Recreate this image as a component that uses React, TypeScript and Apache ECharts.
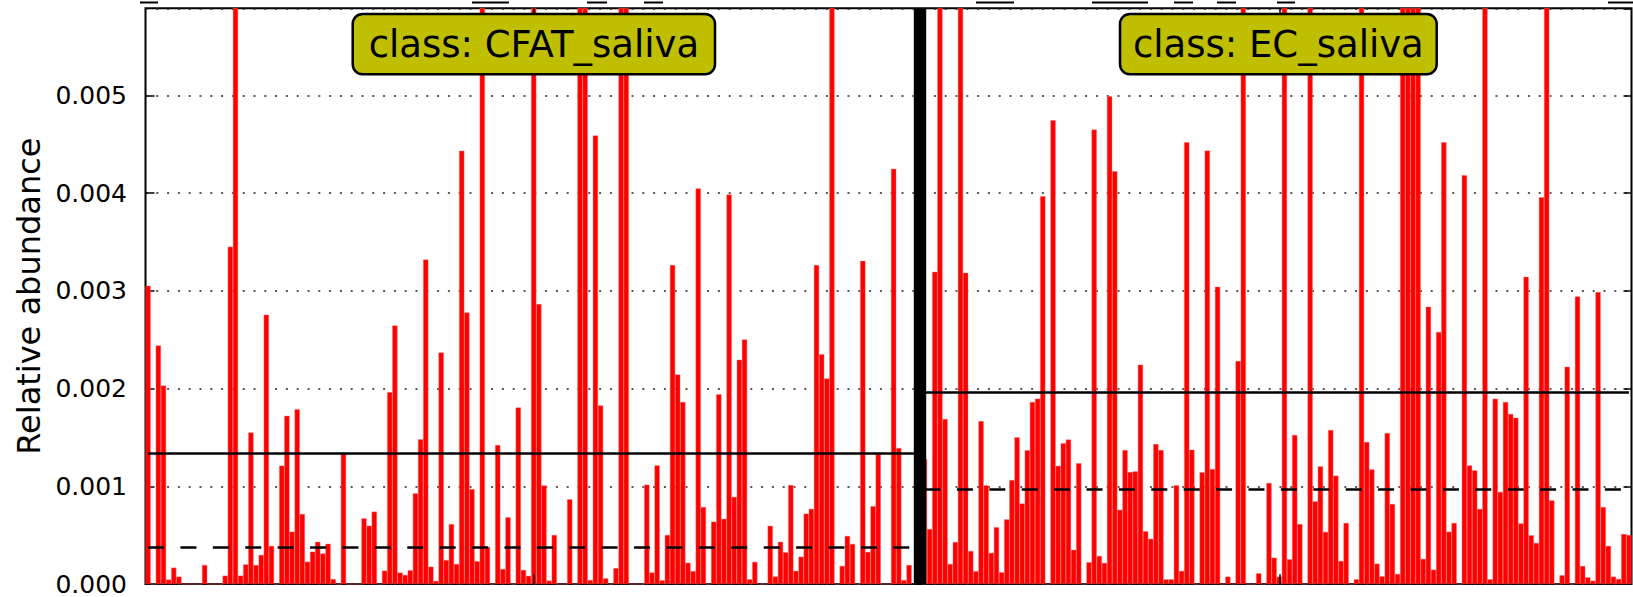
import { useEffect, useRef } from "react";
import * as echarts from "echarts";

// Relative abundance per sample (values above the axis top are clipped bars)
const CFAT_VALUES = [
  0.00305, 0, 0.00244, 0.00203, 0.000045, 0.000167, 0.000075, 0, 0, 0,
  0, 0.000194, 0, 0, 0, 0.000085, 0.00345, 0.0075, 0.000085, 0.0002,
  0.00155, 0.000194, 0.000297, 0.002754, 0.000389, 0, 0.00121, 0.00172, 0.000535, 0.001788,
  0.000716, 0.000228, 0.00033, 0.000432, 0.000312, 0.000411, 0.00005, 0, 0.001335, 0,
  0, 0, 0.000671, 0.000596, 0.00074, 0, 0.000136, 0.001962, 0.002645, 0.000116,
  0.000092, 0.00014, 0.000927, 0.00148, 0.00332, 0.000177, 0.000031, 0.002369, 0.000245, 0.000613,
  0.000204, 0.004431, 0.002778, 0.00097, 0.000233, 0.0075, 0.00038, 0, 0.001421, 0.000153,
  0.000682, 0, 0.001806, 0.000143, 0.000083, 0.0075, 0.002863, 0.001008, 0.000034, 0.000501,
  0, 0, 0.000866, 0, 0.0075, 0.0075, 0.00004, 0.004588, 0.001827, 0.000058,
  0, 0.000162, 0.0075, 0.0075, 0, 0, 0, 0.001016, 0.000117, 0.001213,
  0.000037, 0.000501, 0.003262, 0.002142, 0.001862, 0.000217, 0.000132, 0.004046, 0.000787, 0,
  0.000637, 0.001941, 0.000666, 0.003984, 0.000891, 0.002294, 0.002502, 0.000048, 0.000226, 0,
  0, 0.000595, 0.000077, 0.000431, 0.000324, 0.001012, 0.000134, 0.000279, 0.000719, 0.000768,
  0.003262, 0.00235, 0.002103, 0.0075, 0, 0.000184, 0.000491, 0.000409, 0, 0.003306,
  0.000328, 0.000796, 0.001333, 0, 0, 0.004247, 0.001392, 0.000039, 0.000194,
];

const EC_VALUES = [
  0.001277, 0.000562, 0.003194, 0.0075, 0.001687, 0.000204, 0.000429, 0.0075, 0.003183, 0.000337,
  0.00013, 0.001667, 0.001009, 0.000318, 0.000581, 0.000119, 0.000661, 0.001063, 0.0015, 0.000823,
  0.001368, 0.001862, 0.001896, 0.003967, 0, 0.004744, 0.001208, 0.00144, 0.001477, 0.00035,
  0.001235, 0, 0.000222, 0.004649, 0.000286, 0.000215, 0.00499, 0.004223, 0.000758, 0.00137,
  0.001145, 0.001152, 0.002243, 0.000539, 0.000462, 0.001431, 0.00137, 0.000048, 0.000048, 0.001009,
  0.000133, 0.004519, 0.001374, 0, 0.001142, 0.004434, 0.001176, 0.00304, 0, 0.000075,
  0, 0.00228, 0.0075, 0, 0, 0.000109, 0, 0.001033, 0.000269, 0.000075,
  0.0075, 0.000252, 0.001524, 0.000613, 0, 0.0075, 0.000845, 0.001203, 0.000532, 0.001575,
  0.001108, 0.000235, 0.000624, 0, 0.000048, 0.0075, 0.001452, 0.001172, 0.000208, 0.000078,
  0.001544, 0.000818, 0.000102, 0.0075, 0.0075, 0.0075, 0.0075, 0.000256, 0.002836, 0.000147,
  0.002577, 0.004519, 0.000535, 0.000624, 0, 0.004182, 0.001213, 0.001162, 0.000767, 0.0075,
  0.000048, 0.001895, 0.000941, 0.001861, 0.001738, 0.001701, 0.00062, 0.003142, 0.000498, 0.000419,
  0.003957, 0.0075, 0.000855, 0, 0.000089, 0.002222, 0, 0.002941, 0.000184, 0.000068,
  0.000034, 0.002986, 0.000787, 0.000389, 0.000075, 0.000051, 0.000511, 0.000501,
];

const CLASS_NAMES = ["CFAT_saliva", "EC_saliva"];
const CLASS_MEANS = [0.001338, 0.001958];
const CLASS_MEDIANS = [0.000378, 0.00097];
const Y_MIN = 0;
const Y_MAX = 0.00589;
const Y_STEP = 0.001;
const Y_LABEL = "Relative abundance";

const SEP_NAMES = ["sep_a", "sep_b"];
const categories = [
  ...CFAT_VALUES.map((_, i) => `${CLASS_NAMES[0]}_${i + 1}`),
  ...SEP_NAMES,
  ...EC_VALUES.map((_, i) => `${CLASS_NAMES[1]}_${i + 1}`),
];
const barData = [...CFAT_VALUES, ...SEP_NAMES.map(() => null), ...EC_VALUES];
const ecStart = CFAT_VALUES.length + SEP_NAMES.length;
const sepIndex = CFAT_VALUES.length + 1;
const tickIdx = [
  Math.round(CFAT_VALUES.length / 2),
  ecStart + Math.round(EC_VALUES.length / 2),
];

const FONT = "DejaVu Sans";

export default function App() {
  const ref = useRef<HTMLDivElement>(null);
  useEffect(() => {
    if (!ref.current) return;
    const chart = echarts.init(ref.current, null, { renderer: "svg" });
    const solid = { color: "#000", width: 2.6, type: "solid" as const };
    const dashed = { color: "#000", width: 2.6, type: [16, 16.4] as any };
    const tickStyle = { color: "#000", width: 1.5, type: "solid" as const };
    const grid = { left: 145.5, top: 8.3, width: 1486, height: 575.7 };
    const underscores = [
      [140, 158], [472, 509], [587, 607], [644, 663], [976, 1014],
      [1092, 1148], [1174, 1193], [1217, 1236], [1277, 1295], [1608, 1633],
    ];
    const boxes = [
      { x: 352.7, w: 362.3, text: `class: ${CLASS_NAMES[0]}` },
      { x: 1120, w: 316.7, text: `class: ${CLASS_NAMES[1]}` },
    ];
    // class-centre ticks on the bottom and top edges
    const xTicks = tickIdx.flatMap((i) => [
      [
        { coord: [categories[i], Y_MIN], lineStyle: tickStyle },
        { coord: [categories[i], Y_MIN + Y_STEP * 0.1] },
      ],
      [
        { coord: [categories[i], Y_MAX], lineStyle: tickStyle },
        { coord: [categories[i], Y_MAX - Y_STEP * 0.07] },
      ],
    ]);
    chart.setOption({
      animation: false,
      grid: { ...grid, show: true, borderColor: "#000", borderWidth: 2, containLabel: false },
      xAxis: {
        type: "category",
        data: categories,
        axisLine: { show: false },
        axisLabel: { show: false },
        axisTick: { show: false },
        splitLine: { show: false },
      },
      yAxis: [
        {
          type: "value",
          min: Y_MIN,
          max: Y_MAX,
          interval: Y_STEP,
          position: "left",
          name: Y_LABEL,
          nameLocation: "middle",
          nameRotate: 90,
          nameGap: 101,
          nameTextStyle: { fontSize: 32, fontFamily: FONT, color: "#000" },
          axisLine: { show: false },
          axisTick: { show: true, inside: true, length: 9, lineStyle: { color: "#000", width: 1.5 } },
          axisLabel: {
            margin: 18.5,
            fontSize: 25,
            fontFamily: FONT,
            color: "#000",
            showMaxLabel: false,
            formatter: (v: number) => (Math.abs(v / Y_STEP - Math.round(v / Y_STEP)) < 1e-6 ? v.toFixed(3) : ""),
          },
          splitLine: { show: true, lineStyle: { color: "#222", width: 1.5, type: [2, 8.8] } },
        },
        {
          type: "value",
          min: Y_MIN,
          max: Y_MAX,
          interval: Y_STEP,
          position: "right",
          axisLine: { show: false },
          axisTick: { show: true, inside: true, length: 8, lineStyle: { color: "#000", width: 1.5 } },
          axisLabel: { show: false },
          splitLine: { show: false },
        },
      ],
      series: [
        {
          type: "bar",
          data: barData,
          xAxisIndex: 0,
          yAxisIndex: 0,
          barCategoryGap: "0%",
          barGap: "0%",
          clip: true,
          silent: true,
          itemStyle: { color: "#ff0000", borderColor: "#ff6464", borderWidth: 0.4 },
          markLine: {
            silent: true,
            symbol: ["none", "none"],
            label: { show: false },
            data: [
              { xAxis: categories[sepIndex], lineStyle: { color: "#000", width: 12.4, type: "solid" } },
              [
                { coord: [categories[0], CLASS_MEANS[0]], lineStyle: solid },
                { coord: [categories[CFAT_VALUES.length], CLASS_MEANS[0]] },
              ],
              [
                { coord: [categories[0], CLASS_MEDIANS[0]], lineStyle: dashed },
                { coord: [categories[CFAT_VALUES.length], CLASS_MEDIANS[0]] },
              ],
              [
                { coord: [categories[ecStart], CLASS_MEANS[1]], lineStyle: solid },
                { coord: [categories[categories.length - 1], CLASS_MEANS[1]] },
              ],
              [
                { coord: [categories[ecStart], CLASS_MEDIANS[1]], lineStyle: dashed },
                { coord: [categories[categories.length - 1], CLASS_MEDIANS[1]] },
              ],
              ...xTicks,
            ],
          },
        },
      ],
      graphic: [
        ...underscores.map(([a, b]) => ({
          type: "line",
          z: 50,
          shape: { x1: a, y1: 2.5, x2: b, y2: 2.5 },
          style: { stroke: "#000", lineWidth: 2 },
          silent: true,
        })),
        ...boxes.flatMap((b) => [
          {
            type: "rect",
            z: 50,
            shape: { x: b.x, y: 14, width: b.w, height: 60.3, r: 10 },
            style: { fill: "#bfbf00", stroke: "#000", lineWidth: 2.5 },
          },
          {
            type: "text",
            z: 51,
            x: b.x + b.w / 2,
            y: 44,
            style: {
              text: b.text,
              fontSize: 37,
              fontFamily: FONT,
              fill: "#000",
              align: "center",
              verticalAlign: "middle",
            },
          },
        ]),
      ],
    });
    return () => chart.dispose();
  }, []);
  return (
    <div
      ref={ref}
      style={{ position: "fixed", left: 0, top: 0, width: 1633, height: 597, background: "#fff" }}
    />
  );
}
